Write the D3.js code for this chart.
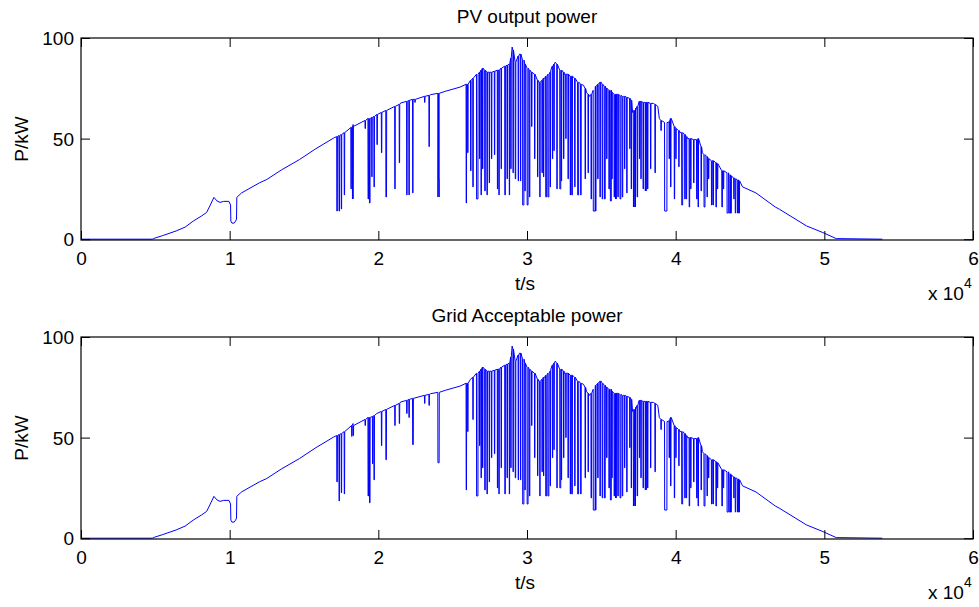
<!DOCTYPE html>
<html>
<head>
<meta charset="utf-8">
<script src="https://cdn.jsdelivr.net/npm/d3@7/dist/d3.min.js"></script>
<style>
  html, body { margin: 0; padding: 0; background: #fff; }
  svg { display: block; }
</style>
</head>
<body>
<svg id="chart" width="979" height="607"></svg>
<script>
// ---------------- DATA (t in seconds, P in kW) ----------------
const titles = ["PV output power", "Grid Acceptable power"];
const xTickValues = [0, 10000, 20000, 30000, 40000, 50000, 60000];
const yTickValues = [0, 50, 100];
const xLabel = "t/s";
const yLabel = "P/kW";

// upper envelope of the power curve [t, P]
const baseCurve = [
  [0,0],[4800,0],[4950,0.5],[5500,1.8],[6400,4.1],[7000,6],[7550,9],[8100,11.5],[8450,13.3],
  [8700,17],[8940,20.8],[9150,19],[9350,18.3],[9600,18.8],[9950,18.8],[10060,17],[10080,9],
  [10150,8],[10300,8],[10400,9],[10460,10],[10480,20.8],[10800,23],[12000,28],[12500,29.7],
  [13500,34.5],[14700,39.6],[15800,45],[17000,50.3],[18300,57],[19900,62],[21500,67.7],
  [23500,71.8],[24500,73.5],[25500,75.6],[26000,77],[26200,79],[26600,82],[27000,85],
  [27500,83],[28000,84],[28500,86],[28800,87],[29000,95.5],[29200,88],[29500,92],[29700,89],
  [30000,85],[30200,83],[30500,82],[30800,78],[31200,80],[31600,84],[31900,88],[32200,84],
  [32500,82],[33000,81],[33500,78],[33800,76.5],[34000,73],[34200,71],[34600,76],[35000,78],
  [35300,75],[35600,74],[36000,72],[36500,71],[36900,70],[37050,68],[37100,63],[37300,65],
  [37600,68.5],[38000,68],[38500,67.5],[38800,66],[38900,60],[39000,59],[39500,58],[39700,60],
  [40000,55],[40300,53],[40800,50],[41200,49.5],[41500,50],[41800,43],[42200,40],[42700,38],
  [43200,34],[43800,31],[44300,28.5],[44500,26],[45400,23],[46700,16],[47000,14.8],[48800,6.6],
  [49900,3.3],[50800,0.3],[53900,0]
];

// dips [t, top, bottom, width] before 2.72e4 s, PV output
const pvDipsEarly = [
  [17200,51,14,30],[17350,51.5,14,30],[17500,52,15,20],[17700,53,22,20],[18150,55.5,25,20],
  [18250,56,20,40],[19100,59,55,20],[19300,60,20,30],[19400,60,18,30],[19550,60.5,31,20],
  [19700,61,26,20],[19900,62,47,20],[20200,63,43,20],[20500,64,21,40],[21100,66,25,20],
  [21400,67,38,20],[21900,68.5,22,20],[22050,69,22,20],[22300,69.5,23,20],[22450,69.5,68,20],
  [23100,71,68,20],[23400,71.5,46,20],[24000,72.5,21,80],[24050,72.5,30,20],
  [25900,77,18,20],[26000,77,43,20],[26200,79,34,20],[26350,80,26,20],[26600,82,20,90],
  [26800,83,40,20],[26900,84,22,20],[27000,85,35,20],[27150,84,24,30]
];

// dips [t, top, bottom, width] before 2.72e4 s, grid acceptable power
const gridDipsEarly = [
  [17200,51,28,30],[17350,51.5,18.5,20],[17500,52,22.6,20],[17700,53,22,20],[18200,56,50.6,20],
  [18300,56,51,20],[19100,59,56,20],[19300,60,21,30],[19400,60,17.6,30],[19600,60.5,37,20],
  [19700,61,29,20],[20200,63,46,20],[20500,64,39,30],[21100,66,56,20],[21400,67,57,20],
  [21900,68.5,62,20],[22050,69,60,20],[22300,69.5,46.5,40],[23100,71,67,20],[23400,71.5,66,20],
  [24000,72.5,37.5,80],[25900,77,24,20],[26000,77,53,20],[26350,80,59,20],[26600,82,21,90],
  [26800,83,46,20],[26900,84,30,20],[27000,85,35,20],[27150,84,24,30]
];

// dips [t, top, bottom, width] from 2.72e4 s on (same in both panels)
const sharedDips = [
  [27300,83,22,20],[27450,83,28,20],[27600,83,40,20],[27800,83.5,42,20],[28000,84,25,20],
  [28100,84,22,20],[28250,85,35,20],[28500,86,22,30],[28650,86.5,30,20],[28800,87,22,20],
  [28900,90,35,20],[29050,94,33,20],[29200,88,30,30],[29400,91,29,20],[29550,92,29,20],
  [29700,89,17,80],[29850,87,24,20],[30000,85,17,60],[30150,84,21,30],[30300,83,56,20],
  [30500,82,40,20],[30700,79,31,20],[30850,78,21,20],[31000,79,33,20],[31100,80,31,20],
  [31250,81,21,60],[31400,82,21,60],[31550,83,26,20],[31700,86,40,20],[31800,87,44,20],
  [32000,87,25,20],[32200,84,25,60],[32300,84,29,20],[32450,83,40,20],[32600,82,50,20],
  [32750,82,30,20],[32900,81,22,20],[33000,81,22,40],[33200,80,26,20],[33400,78,22,60],
  [33600,77,22,30],[33900,75,30,20],[34100,72,33,20],[34300,72,20,30],[34450,74,14,120],
  [34600,76,14,30],[34750,77,30,20],[34900,78,21,20],[35050,77,20,30],[35200,76,20,50],
  [35350,75,40,20],[35500,74,25,30],[35600,74,19,60],[35700,73,30,20],[35850,72,21,30],
  [35950,72,20,40],[36100,72,21,30],[36250,71.5,20,50],[36400,71,21,30],[36550,71,35,20],
  [36700,70.5,23,20],[36900,70,45,20],[37000,69,25,20],[37150,64,16,100],[37250,64,16,30],
  [37400,66,21,30],[37550,68.5,40,20],[37650,68.5,30,20],[37800,68,25,20],[37950,68,24,60],
  [38100,68,25,20],[38300,67.5,35,20],[38600,67,33,20],[39000,59,54,20],[39250,58,14,150],
  [39550,58.5,40,20],[39650,60,26,20],[39900,56,20,20],[40000,55,40,20],[40200,54,36,20],
  [40400,53,17,60],[40600,52,20,30],[40700,51,20,30],[40900,50,16,30],[41000,50,25,20],
  [41200,49.5,28,20],[41400,49.5,20,40],[41500,50,16,20],[41700,46,24,20],[41900,42,16,60],
  [42100,41,21,20],[42200,40,30,20],[42400,39,17,30],[42500,39,17,30],[42700,38,16,30],
  [42800,37.5,25,20],[43100,34,16,30],[43200,34,25,20],[43450,33,13,80],[43600,32,13,80],
  [43700,31.5,13,30],[43900,30.5,20,20],[44000,30,13,30],[44150,29.5,13,60],[44250,29,13,30]
];

// ---------------- DRAWING ----------------
const FONT = "'Liberation Sans', Arial, Helvetica, sans-serif";
const FS = 19;
const svg = d3.select("#chart");

function buildSeries(base, dips) {
  const pts = base.map(d => ({t: d[0], p: d[1]}));
  dips.forEach(([t, top, bot, w]) => {
    pts.push({t: t, p: top}, {t: t + 10, p: bot}, {t: t + 10 + w, p: bot}, {t: t + 20 + w, p: top});
  });
  pts.sort((a, b) => a.t - b.t);
  return pts;
}

const panels = [
  {title: titles[0], top: 38, bottom: 240, dips: pvDipsEarly.concat(sharedDips), titleY: 23},
  {title: titles[1], top: 337, bottom: 539, dips: gridDipsEarly.concat(sharedDips), titleY: 322}
];

const left = 81, right = 973;

panels.forEach(pn => {
  const x = d3.scaleLinear().domain([0, 60000]).range([left, right]);
  const y = d3.scaleLinear().domain([0, 100]).range([pn.bottom - 0.8, pn.top]);
  const g = svg.append("g");

  // data line
  const series = buildSeries(baseCurve, pn.dips);
  g.append("path")
    .datum(series)
    .attr("fill", "none")
    .attr("stroke", "#0000ff")
    .attr("stroke-width", 1)
    .attr("d", d3.line().x(d => x(d.t)).y(d => y(d.p)));

  // axes (ticks inward)
  const ax = g.append("g").attr("transform", `translate(0,${pn.bottom})`)
    .call(d3.axisBottom(x).tickValues(xTickValues).tickFormat(d => d / 10000)
      .tickSizeInner(-9).tickSizeOuter(0));
  const axT = g.append("g").attr("transform", `translate(0,${pn.top})`)
    .call(d3.axisTop(x).tickValues(xTickValues).tickFormat("").tickSizeInner(-9).tickSizeOuter(0));
  const ay = g.append("g").attr("transform", `translate(${left},0)`)
    .call(d3.axisLeft(y).tickValues(yTickValues).tickSizeInner(-9).tickSizeOuter(0));
  const ayR = g.append("g").attr("transform", `translate(${right},0)`)
    .call(d3.axisRight(y).tickValues(yTickValues).tickFormat("").tickSizeInner(-9).tickSizeOuter(0));

  [ax, axT, ay, ayR].forEach(a => {
    a.select(".domain").remove();
    a.attr("font-family", FONT).attr("font-size", FS);
    a.selectAll("line").attr("stroke", "#000").attr("stroke-width", 1);
    a.selectAll("text").attr("fill", "#000");
  });
  ax.selectAll("text").attr("y", 25).attr("dy", null);
  ay.selectAll("text").attr("x", -7).attr("dy", "0.34em");

  // box
  g.append("rect")
    .attr("x", left).attr("y", pn.top)
    .attr("width", right - left).attr("height", pn.bottom - pn.top)
    .attr("fill", "none").attr("stroke", "#000").attr("stroke-width", 1.2);

  // title
  g.append("text").attr("x", (left + right) / 2).attr("y", pn.titleY)
    .attr("text-anchor", "middle").attr("font-family", FONT).attr("font-size", FS)
    .text(pn.title);

  // x label
  g.append("text").attr("x", 525).attr("y", pn.bottom + 50)
    .attr("text-anchor", "middle").attr("font-family", FONT).attr("font-size", FS)
    .text(xLabel);

  // exponent label
  const ex = g.append("text").attr("x", 928).attr("y", pn.bottom + 60)
    .attr("font-family", FONT).attr("font-size", FS);
  ex.append("tspan").text("x 10");
  ex.append("tspan").attr("font-size", 14).attr("dy", -12).text("4");

  // y label
  g.append("text")
    .attr("transform", `translate(28,${(pn.top + pn.bottom) / 2}) rotate(-90)`)
    .attr("text-anchor", "middle").attr("font-family", FONT).attr("font-size", FS)
    .text(yLabel);
});
</script>
</body>
</html>
